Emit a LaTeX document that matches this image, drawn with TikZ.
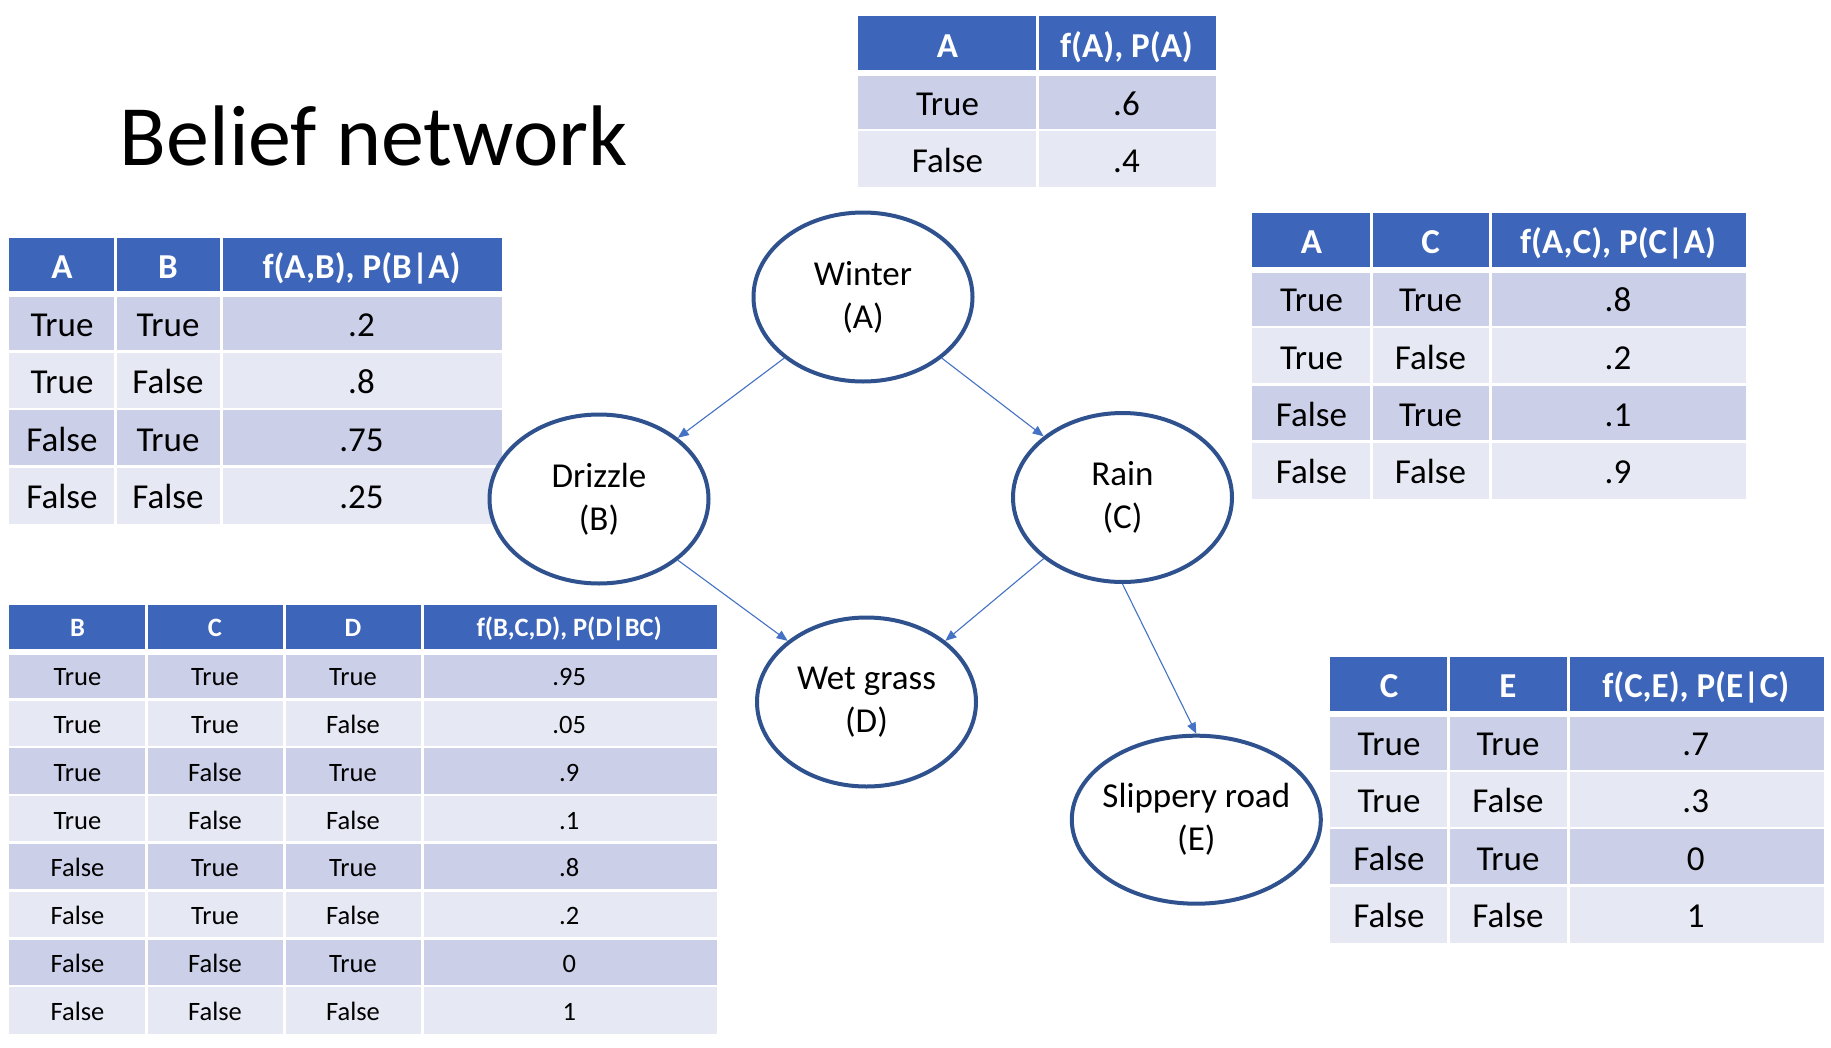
\documentclass[tikz,border=0pt]{standalone}
\usepackage{fontspec}
\setmainfont{Carlito}
\usetikzlibrary{arrows.meta,shapes.geometric}
\definecolor{hdr}{RGB}{61,101,185}
\definecolor{rowA}{RGB}{203,208,232}
\definecolor{rowB}{RGB}{230,232,243}
\definecolor{ring}{RGB}{47,82,143}
\definecolor{linkc}{RGB}{68,114,196}
\tikzset{
  bn/.style={ellipse, draw=ring, fill=white, line width=4pt, minimum width=219pt,
    minimum height=169pt, inner xsep=-30pt, inner ysep=0pt, align=center, font=\fontsize{35}{43}\selectfont},
  link/.style={draw=linkc, line width=1.1pt, -{Triangle[length=11pt,width=9pt]}},
  bigcell/.style={anchor=base, inner sep=0pt, font=\fontsize{35}{42}\selectfont},
  bighead/.style={anchor=base, inner sep=0pt, text=white, font=\fontsize{35}{42}\selectfont\bfseries},
  smallcell/.style={anchor=base, inner sep=0pt, font=\fontsize{26.5}{32}\selectfont},
  smallhead/.style={anchor=base, inner sep=0pt, text=white, font=\fontsize{26.5}{32}\selectfont\bfseries},
  gridline/.style={white, line width=2.5pt},
  headline/.style={white, line width=6pt},
  colline/.style={white, line width=3pt},
}
\begin{document}
\begin{tikzpicture}[x=1pt,y=-1pt]
\useasboundingbox[fill=white] (0,0) rectangle (1831,1047);

% ---------- title ----------
\node[anchor=base west, inner sep=0pt, font=\fontsize{86}{100}\selectfont] (title) at (119.5,165.6) {Belief network};

% ---------- table A ----------
\fill[hdr] (858,16) rectangle (1216,73);
\fill[rowA] (858,73) rectangle (1216,130);
\fill[rowB] (858,130) rectangle (1216,187);
\draw[headline] (858,73) -- (1216,73);
\draw[gridline] (858,130) -- (1216,130);
\draw[colline] (1037,16) -- (1037,187);
\node[bighead] (ta-h-1) at (947.5,57) {A};
\node[bighead] (ta-h-2) at (1126.5,57) {f(A), P(A)};
\foreach \r/\a/\p in {1/True/.6, 2/False/.4} {
  \node[bigcell] (ta-\r-1) at (947.5,{73+57*(\r-0.5)+13.5}) {\a};
  \node[bigcell] (ta-\r-2) at (1126.5,{73+57*(\r-0.5)+13.5}) {\p};
}

% ---------- table AB ----------
\fill[hdr] (9,238) rectangle (502,294);
\fill[rowA] (9,294) rectangle (502,351.5);
\fill[rowB] (9,351.5) rectangle (502,409);
\fill[rowA] (9,409) rectangle (502,466.5);
\fill[rowB] (9,466.5) rectangle (502,524);
\draw[headline] (9,294) -- (502,294);
\foreach \y in {351.5,409,466.5} \draw[gridline] (9,\y) -- (502,\y);
\foreach \x in {115,221} \draw[colline] (\x,238) -- (\x,524);
\node[bighead] (tab-h-1) at (62,278.5) {A};
\node[bighead] (tab-h-2) at (168,278.5) {B};
\node[bighead] (tab-h-3) at (361.5,278.5) {f(A,B), P(B|A)};
\foreach \r/\a/\b/\p in {1/True/True/.2, 2/True/False/.8, 3/False/True/.75, 4/False/False/.25} {
  \node[bigcell] (tab-\r-1) at (62,{294+57.5*(\r-0.5)+13.5}) {\a};
  \node[bigcell] (tab-\r-2) at (168,{294+57.5*(\r-0.5)+13.5}) {\b};
  \node[bigcell] (tab-\r-3) at (361.5,{294+57.5*(\r-0.5)+13.5}) {\p};
}

% ---------- table AC ----------
\fill[hdr] (1252,213) rectangle (1746,269.5);
\fill[rowA] (1252,269.5) rectangle (1746,326.9);
\fill[rowB] (1252,326.9) rectangle (1746,384.3);
\fill[rowA] (1252,384.3) rectangle (1746,441.7);
\fill[rowB] (1252,441.7) rectangle (1746,499);
\draw[headline] (1252,269.5) -- (1746,269.5);
\foreach \y in {326.9,384.3,441.7} \draw[gridline] (1252,\y) -- (1746,\y);
\foreach \x in {1371,1490} \draw[colline] (\x,213) -- (\x,499);
\node[bighead] (tac-h-1) at (1311.5,253.5) {A};
\node[bighead] (tac-h-2) at (1430.5,253.5) {C};
\node[bighead] (tac-h-3) at (1618,253.5) {f(A,C), P(C|A)};
\foreach \r/\a/\b/\p in {1/True/True/.8, 2/True/False/.2, 3/False/True/.1, 4/False/False/.9} {
  \node[bigcell] (tac-\r-1) at (1311.5,{269.5+57.4*(\r-0.5)+13.5}) {\a};
  \node[bigcell] (tac-\r-2) at (1430.5,{269.5+57.4*(\r-0.5)+13.5}) {\b};
  \node[bigcell] (tac-\r-3) at (1618,{269.5+57.4*(\r-0.5)+13.5}) {\p};
}

% ---------- table CE ----------
\fill[hdr] (1330,657) rectangle (1823.5,713.5);
\fill[rowA] (1330,713.5) rectangle (1823.5,770.75);
\fill[rowB] (1330,770.75) rectangle (1823.5,828);
\fill[rowA] (1330,828) rectangle (1823.5,885.25);
\fill[rowB] (1330,885.25) rectangle (1823.5,942.5);
\draw[headline] (1330,713.5) -- (1823.5,713.5);
\foreach \y in {770.75,828,885.25} \draw[gridline] (1330,\y) -- (1823.5,\y);
\foreach \x in {1448,1568} \draw[colline] (\x,657) -- (\x,942.5);
\node[bighead] (tce-h-1) at (1389,697.75) {C};
\node[bighead] (tce-h-2) at (1508,697.75) {E};
\node[bighead] (tce-h-3) at (1695.75,697.75) {f(C,E), P(E|C)};
\foreach \r/\a/\b/\p in {1/True/True/.7, 2/True/False/.3, 3/False/True/0, 4/False/False/1} {
  \node[bigcell] (tce-\r-1) at (1389,{713.5+57.25*(\r-0.5)+13.5}) {\a};
  \node[bigcell] (tce-\r-2) at (1508,{713.5+57.25*(\r-0.5)+13.5}) {\b};
  \node[bigcell] (tce-\r-3) at (1695.75,{713.5+57.25*(\r-0.5)+13.5}) {\p};
}

% ---------- table BCD ----------
\fill[hdr] (9,605) rectangle (716.5,651.5);
\foreach \r in {1,3,5,7} \fill[rowA] (9,{651.5+47.8*(\r-1)}) rectangle (716.5,{651.5+47.8*\r});
\foreach \r in {2,4,6,8} \fill[rowB] (9,{651.5+47.8*(\r-1)}) rectangle (716.5,{651.5+47.8*\r});
\draw[headline] (9,651.5) -- (716.5,651.5);
\foreach \r in {1,...,7} \draw[gridline] (9,{651.5+47.8*\r}) -- (716.5,{651.5+47.8*\r});
\foreach \x in {146,284,422} \draw[colline] (\x,605) -- (\x,1034);
\node[smallhead] (tbcd-h-1) at (77.5,636.75) {B};
\node[smallhead] (tbcd-h-2) at (215,636.75) {C};
\node[smallhead] (tbcd-h-3) at (353,636.75) {D};
\node[smallhead] (tbcd-h-4) at (569.25,636.75) {f(B,C,D), P(D|BC)};
\foreach \r/\b/\c/\d/\p in {1/True/True/True/.95, 2/True/True/False/.05, 3/True/False/True/.9,
    4/True/False/False/.1, 5/False/True/True/.8, 6/False/True/False/.2, 7/False/False/True/0,
    8/False/False/False/1} {
  \node[smallcell] (tbcd-\r-1) at (77.5,{651.5+47.8*(\r-0.5)+10.2}) {\b};
  \node[smallcell] (tbcd-\r-2) at (215,{651.5+47.8*(\r-0.5)+10.2}) {\c};
  \node[smallcell] (tbcd-\r-3) at (353,{651.5+47.8*(\r-0.5)+10.2}) {\d};
  \node[smallcell] (tbcd-\r-4) at (569.25,{651.5+47.8*(\r-0.5)+10.2}) {\p};
}

% ---------- network ----------
\node[bn] (A) at (863,297) {Winter\\(A)};
\node[bn] (B) at (599,499) {Drizzle\\(B)};
\node[bn] (C) at (1122.5,497.5) {Rain\\(C)};
\node[bn] (D) at (866.5,702) {Wet grass\\(D)};
\node[bn, minimum width=249pt, minimum height=168pt] (E) at (1196.3,819.7) {Slippery road\\(E)};

\draw[link] (A.south west) -- (B.north east);
\draw[link] (A.south east) -- (C.north west);
\draw[link] (B.south east) -- (D.north west);
\draw[link] (C.south west) -- (D.north east);
\draw[link] (C.south) -- (E.north);
\end{tikzpicture}
\end{document}
